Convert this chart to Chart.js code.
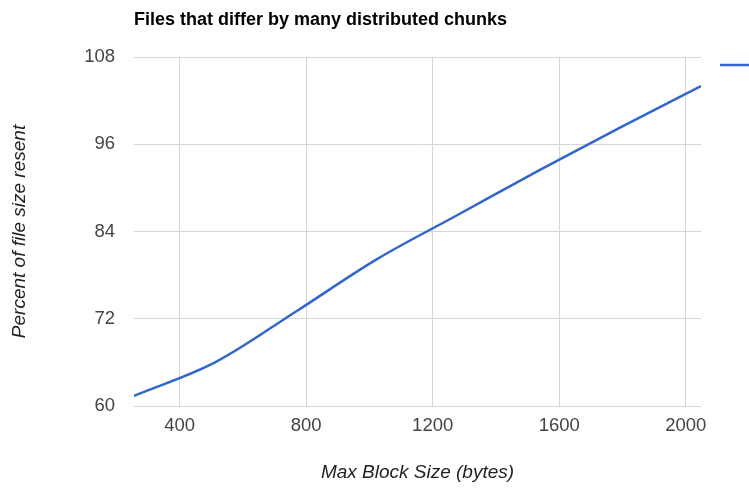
<!DOCTYPE html>
<html>
<head>
<meta charset="utf-8">
<script src="https://cdn.jsdelivr.net/npm/chart.js@4"></script>
<style>
  html, body { margin: 0; padding: 0; background: #fff; overflow: hidden; }
  #wrap { width: 749px; height: 489px; position: relative; }
</style>
</head>
<body>
<div id="wrap"><canvas id="lineChart"></canvas></div>
<script>
const blockSizes = [256, 512, 768, 1024, 1280, 1536, 1792, 2048];
const percentResent = [61.4, 66.0, 73.0, 80.2, 86.3, 92.4, 98.3, 104.0];
const xTicks = [400, 800, 1200, 1600, 2000];
const yTicks = [60, 72, 84, 96, 108];

const chartTitle = 'Files that differ by many distributed chunks';
const lineColor = '#3366cc';

// title at left of plot + clipped legend marker
const decor = {
    id: 'decor',
    afterDraw(chart) {
        const c = chart.ctx;
        const area = chart.chartArea;
        c.save();
        c.fillStyle = '#000';
        c.font = 'bold 18px "Liberation Sans", Arial, sans-serif';
        c.textBaseline = 'alphabetic';
        c.fillText(chartTitle, area.left, 25);
        c.strokeStyle = lineColor;
        c.lineWidth = 2.5;
        c.beginPath();
        c.moveTo(720, 65);
        c.lineTo(752, 65);
        c.stroke();
        c.restore();
    }
};

const ctx = document.getElementById('lineChart').getContext('2d');

const lineChart = new Chart(ctx, {
    type: 'line',
    data: {
        datasets: [{
            label: 'Percent resent',
            data: blockSizes.map((x, i) => ({x: x, y: percentResent[i]})),
            borderColor: lineColor,
            borderWidth: 2.5,
            pointRadius: 0,
            cubicInterpolationMode: 'monotone',
            fill: false
        }]
    },
    options: {
        responsive: true,
        maintainAspectRatio: false,
        animation: false,
        layout: { padding: { left: 0, right: 48, top: 57, bottom: 0 } },
        plugins: {
            legend: { display: false },
            tooltip: { enabled: false }
        },
        scales: {
            x: {
                type: 'linear',
                min: 256,
                max: 2048,
                afterBuildTicks: s => { s.ticks = xTicks.map(v => ({value: v})); },
                afterFit: s => { s.height = 83; },
                grid: { color: '#d6d6d6', lineWidth: 1, drawTicks: false },
                border: { display: false },
                ticks: {
                    padding: 9,
                    color: '#444',
                    callback: v => String(v),
                    font: { family: '"Liberation Sans", Arial', size: 18.5 }
                },
                title: {
                    display: true,
                    text: 'Max Block Size (bytes)',
                    color: '#222',
                    padding: { top: 5, bottom: 5 },
                    font: { family: '"Liberation Sans", Arial', size: 19, style: 'italic' }
                }
            },
            y: {
                min: 60,
                max: 108,
                afterBuildTicks: s => { s.ticks = yTicks.map(v => ({value: v})); },
                afterFit: s => { s.width = 134; },
                grid: { color: '#d6d6d6', lineWidth: 1, drawTicks: false },
                border: { display: false },
                ticks: {
                    padding: 19,
                    color: '#444',
                    callback: v => String(v),
                    font: { family: '"Liberation Sans", Arial', size: 18.5 }
                },
                title: {
                    display: true,
                    text: 'Percent of file size resent',
                    color: '#222',
                    padding: { top: 8, bottom: 8 },
                    font: { family: '"Liberation Sans", Arial', size: 19, style: 'italic' }
                }
            }
        }
    },
    plugins: [decor]
});
</script>
</body>
</html>
